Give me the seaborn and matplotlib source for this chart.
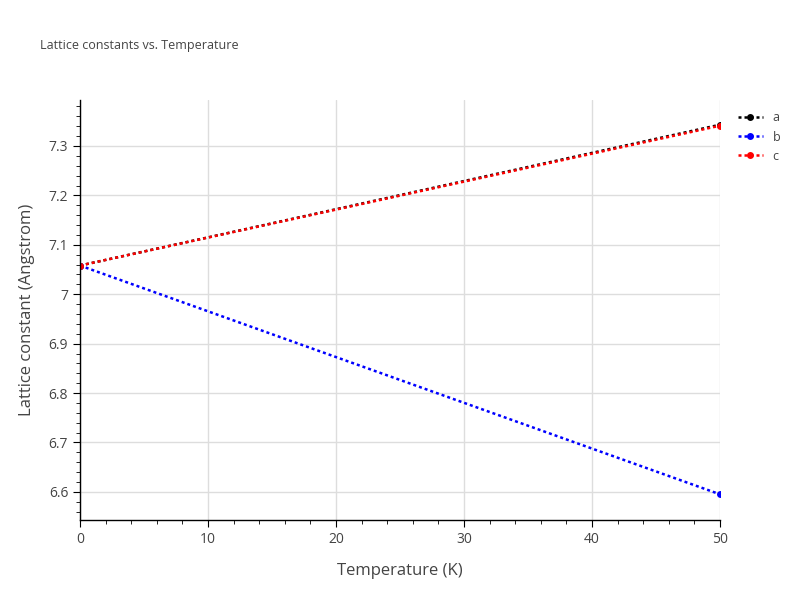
import matplotlib
matplotlib.use("Agg")
import matplotlib.pyplot as plt
import seaborn as sns
import pandas as pd
from matplotlib.ticker import MultipleLocator

temps = [0, 50]
a_vals = [7.058, 7.343]
b_vals = [7.058, 6.595]
c_vals = [7.058, 7.341]
series = ["a", "b", "c"]
colors = ["black", "blue", "red"]

sns.set_style("white")
plt.rcParams['font.family'] = ['Open Sans', 'DejaVu Sans']

fig = plt.figure(figsize=(8, 6), dpi=100)
ax = fig.add_axes([0.1, 0.1333, 0.8, 0.7])

for name, vals, col in zip(series, [a_vals, b_vals, c_vals], colors):
    df = pd.DataFrame({"T": temps, "v": vals})
    sns.lineplot(data=df, x="T", y="v", ax=ax, color=col, linestyle=(0, (1.2, 1.2)),
                 linewidth=1.8, marker="o", markersize=5, markeredgewidth=0, label=name)

ax.set_xlim(0, 50)
ax.set_ylim(6.543, 7.393)
ax.xaxis.set_major_locator(MultipleLocator(10))
ax.xaxis.set_minor_locator(MultipleLocator(2))
ax.yaxis.set_major_locator(MultipleLocator(0.1))
ax.yaxis.set_minor_locator(MultipleLocator(0.02))
ax.set_yticks([6.6, 6.7, 6.8, 6.9, 7.0, 7.1, 7.2, 7.3])
ax.set_yticklabels(["6.6", "6.7", "6.8", "6.9", "7", "7.1", "7.2", "7.3"])
ax.grid(True, which="major", color="#dddddd", linewidth=1)
ax.set_axisbelow(True)
for s in ["top", "right"]:
    ax.spines[s].set_visible(False)
for s in ["left", "bottom"]:
    ax.spines[s].set_color("black")
    ax.spines[s].set_linewidth(1)
ax.tick_params(which="major", direction="out", length=5, color="black", labelcolor="#444444",
               labelsize=10, left=True, bottom=True)
ax.tick_params(which="minor", direction="out", length=3, color="black", left=True, bottom=True)
ax.set_xlabel("Temperature (K)", fontsize=12, color="#444444", labelpad=12)
ax.set_ylabel("Lattice constant (Angstrom)", fontsize=12, color="#444444", labelpad=10)
fig.text(0.05, 0.918, "Lattice constants vs. Temperature", fontsize=9, color="#444444")
ax.legend(loc="upper left", bbox_to_anchor=(1.01, 1.0), frameon=False, fontsize=9,
          handlelength=2, labelcolor="#444444")
fig.savefig("out.png", dpi=100)
